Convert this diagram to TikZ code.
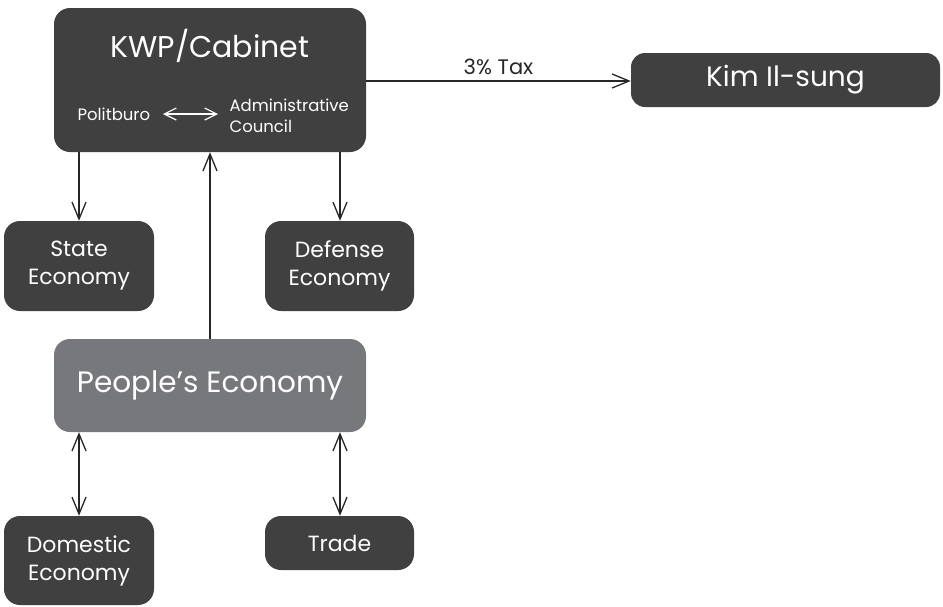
\documentclass[tikz,border=0pt]{standalone}
\usepackage{fontspec}
\setmainfont{Poppins}
\usetikzlibrary{arrows.meta}
\definecolor{boxdark}{HTML}{404040}
\definecolor{boxgray}{HTML}{77787B}
\definecolor{lineblk}{HTML}{262626}
\begin{document}
\begin{tikzpicture}[x=1pt,y=-1pt,
  tip/.style={Straight Barb[length=17pt,width=14pt,line width=1.3pt]},
  wtip/.style={Straight Barb[length=12pt,width=12pt,line width=1.3pt]},
  box/.style={fill=boxdark,text=white,rounded corners=16pt,inner sep=0pt,align=center},
  conn/.style={draw=lineblk,line width=1.4pt,-{Straight Barb[length=17pt,width=14pt,line width=1.3pt]}},
  conn2/.style={draw=lineblk,line width=1.4pt,{Straight Barb[length=17pt,width=14pt,line width=1.3pt]}-{Straight Barb[length=17pt,width=14pt,line width=1.3pt]}},
  mid/.style={font=\fontsize{22}{28}\selectfont},
  small/.style={font=\fontsize{16.5}{21}\selectfont}]
\useasboundingbox (0,0) rectangle (943,606);
% boxes
\node[box,minimum width=312pt,minimum height=144pt] (kwp) at (210,80) {};
\node[font=\fontsize{30}{34}\selectfont,text=white] (kwpt) at (210,46) {KWP/Cabinet};
\node[small,text=white,anchor=west] (pol) at (74,114) {Politburo};
\node[small,text=white,anchor=west,align=left] (adm) at (226,116) {Administrative\\Council};
\node[box,minimum width=309pt,minimum height=54pt,rounded corners=14pt,font=\fontsize{28}{32}\selectfont] (kim) at (785.5,80) {Kim Il-sung};
\node[box,minimum width=150pt,minimum height=90pt,mid] (state) at (79,266) {State\\Economy};
\node[box,minimum width=149pt,minimum height=90pt,mid] (def) at (339.5,266) {Defense\\Economy};
\node[box,fill=boxgray,minimum width=312pt,minimum height=93pt,font=\fontsize{29.5}{34}\selectfont] (peo) at (210,385.5) {People’s Economy};
\node[box,minimum width=150pt,minimum height=89pt,mid] (dom) at (79,560.5) {Domestic\\Economy};
\node[box,minimum width=149pt,minimum height=54pt,mid] (trade) at (339.5,543) {Trade};
% connectors
\draw[conn] (kwp.east |- 0,81) -- node[above=2pt,font=\fontsize{21}{24}\selectfont,text=lineblk] {3\% Tax} (kim.west |- 0,81);
\draw[conn] (kwp.south -| state.north) -- (state.north);
\draw[conn] (kwp.south -| 340,0) -- (def.north -| 340,0);
\draw[conn] (peo.north) -- (kwp.south);
\draw[conn2] (peo.south -| dom.north) -- (dom.north);
\draw[conn2] (peo.south -| 340,0) -- (trade.north -| 340,0);
\draw[draw=white,line width=1.3pt,{Straight Barb[length=12pt,width=12pt,line width=1.2pt]}-{Straight Barb[length=12pt,width=12pt,line width=1.2pt]}] (163,114) -- (218,114);
\end{tikzpicture}
\end{document}
